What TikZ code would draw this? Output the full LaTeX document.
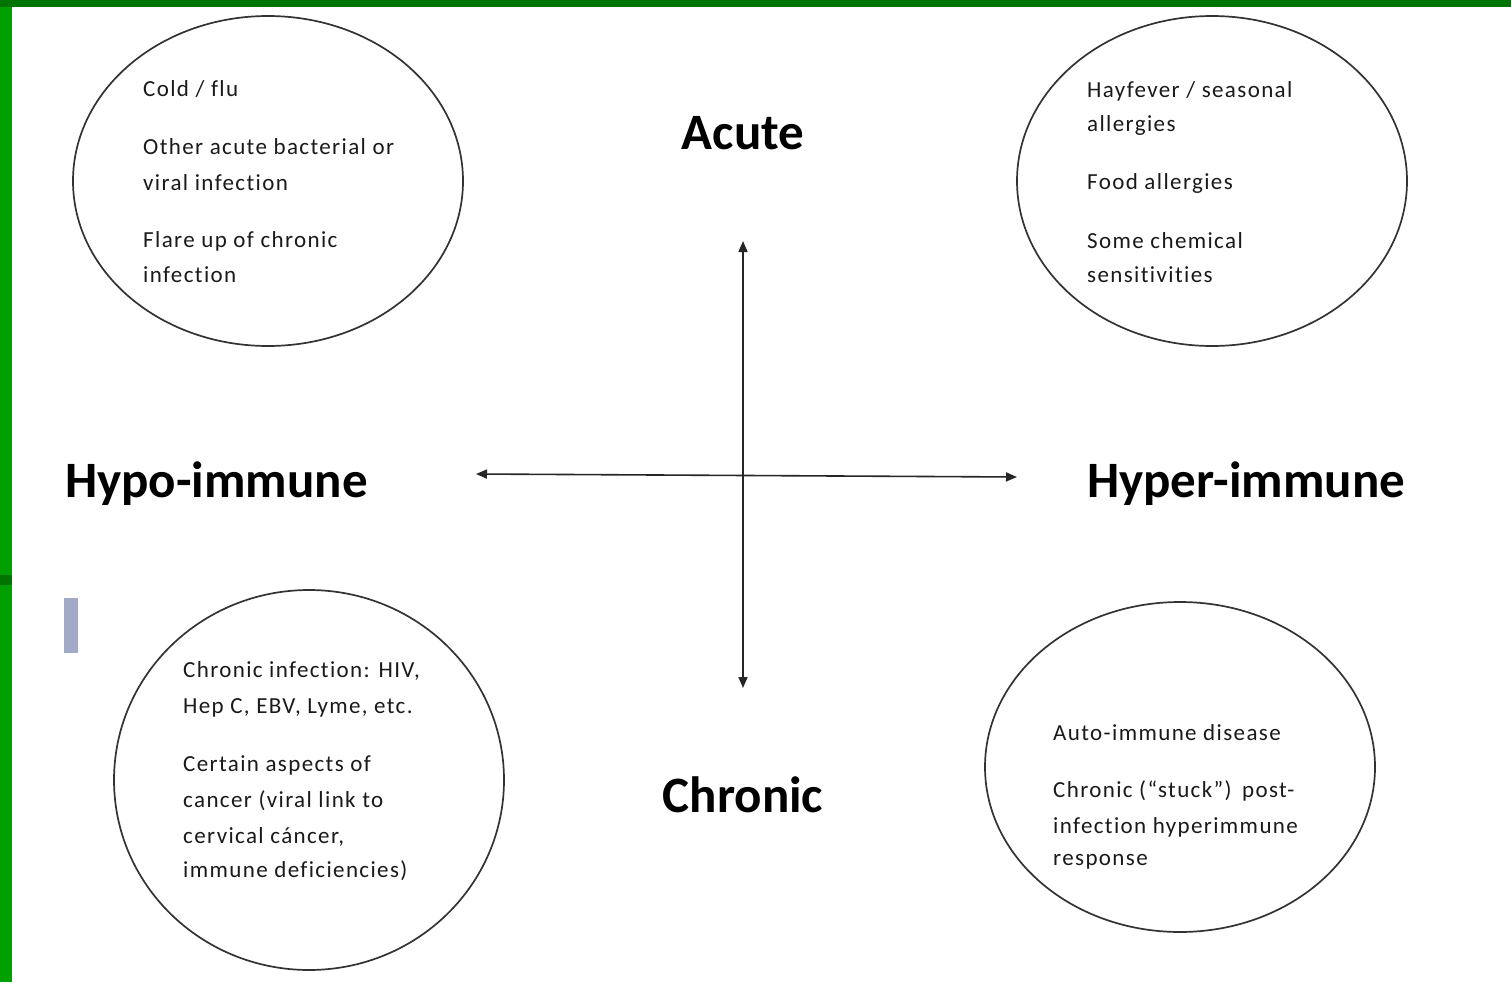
\documentclass[tikz,border=0pt]{standalone}
\usepackage{fontspec}
\setmainfont{Carlito}
\newfontfamily\smallfnt[LetterSpace=6,Ligatures=NoCommon]{Carlito}
\usetikzlibrary{arrows.meta}
\definecolor{gdark}{HTML}{007400}
\definecolor{glight}{HTML}{00A000}
\definecolor{barcol}{HTML}{A3AAC8}
\definecolor{txt}{HTML}{1A1A1A}
\tikzset{
  bubble/.style={draw=black!80, line width=1.7pt},
  item/.style={anchor=west, inner sep=0pt, text=txt, font=\smallfnt\fontsize{23}{23}\selectfont},
  axislabel/.style={inner sep=0pt, text=black, font=\bfseries\fontsize{51}{51}\selectfont},
  axis/.style={line width=1.6pt, draw=black!85, {Triangle[length=11pt,width=9pt]}-{Triangle[length=11pt,width=9pt]}}
}
\begin{document}
\begin{tikzpicture}[x=1pt,y=-1pt]
\useasboundingbox (0,0) rectangle (1511,982);
\fill[white] (0,0) rectangle (1511,982);
% green frame
\fill[glight] (0,0) rectangle (12,982);
\fill[gdark] (0,0) rectangle (1511,7);
\fill[gdark] (0,575) rectangle (12,585);
% small bar
\fill[barcol] (64,598) rectangle (78,653);

% ellipses
\draw[bubble] (268,181) ellipse [x radius=195, y radius=165];
\draw[bubble] (1212,181) ellipse [x radius=195, y radius=165];
\draw[bubble] (309,780) ellipse [x radius=195, y radius=190];
\draw[bubble] (1180,767) ellipse [x radius=195, y radius=165];

% axes
\coordinate (top) at (743,241);
\coordinate (bot) at (743,688);
\coordinate (lft) at (476,474);
\coordinate (rgt) at (1017,477);
\draw[axis] (top) -- (bot);
\draw[axis] (lft) -- (rgt);

% axis labels
\node[axislabel] (acute) at (743,133) {Acute};
\node[axislabel] (chronic) at (743,795) {Chronic};
\node[axislabel, anchor=west] (hypo) at (65,484) {Hypo-immune};
\node[axislabel, anchor=west] (hyper) at (1087,484) {Hyper-immune};

% top-left
\node[item] (tl1) at (143,89) {Cold / flu};
\node[item] (tl2) at (143,147) {Other acute bacterial or};
\node[item] (tl3) at (143,183) {viral infection};
\node[item] (tl4) at (143,241) {Flare up of chronic};
\node[item] (tl5) at (143,275) {infection};

% top-right
\node[item] (tr1) at (1087,91) {Hayfever / seasonal};
\node[item] (tr2) at (1087,125) {allergies};
\node[item] (tr3) at (1087,183) {Food allergies};
\node[item] (tr4) at (1087,241) {Some chemical};
\node[item] (tr5) at (1087,275) {sensitivities};

% bottom-left
\node[item] (bl1) at (183,671) {Chronic infection: HIV,};
\node[item] (bl2) at (183,708) {Hep C, EBV, Lyme, etc.};
\node[item] (bl3) at (183,765) {Certain aspects of};
\node[item] (bl4) at (183,801) {cancer (viral link to};
\node[item] (bl5) at (183,837) {cervical cáncer,};
\node[item] (bl6) at (183,871) {immune deficiencies)};

% bottom-right
\node[item] (br1) at (1053,733) {Auto-immune disease};
\node[item] (br2) at (1053,791) {Chronic (“stuck”)\, post-};
\node[item] (br3) at (1053,827) {infection hyperimmune};
\node[item] (br4) at (1053,862) {response};
\end{tikzpicture}
\end{document}
